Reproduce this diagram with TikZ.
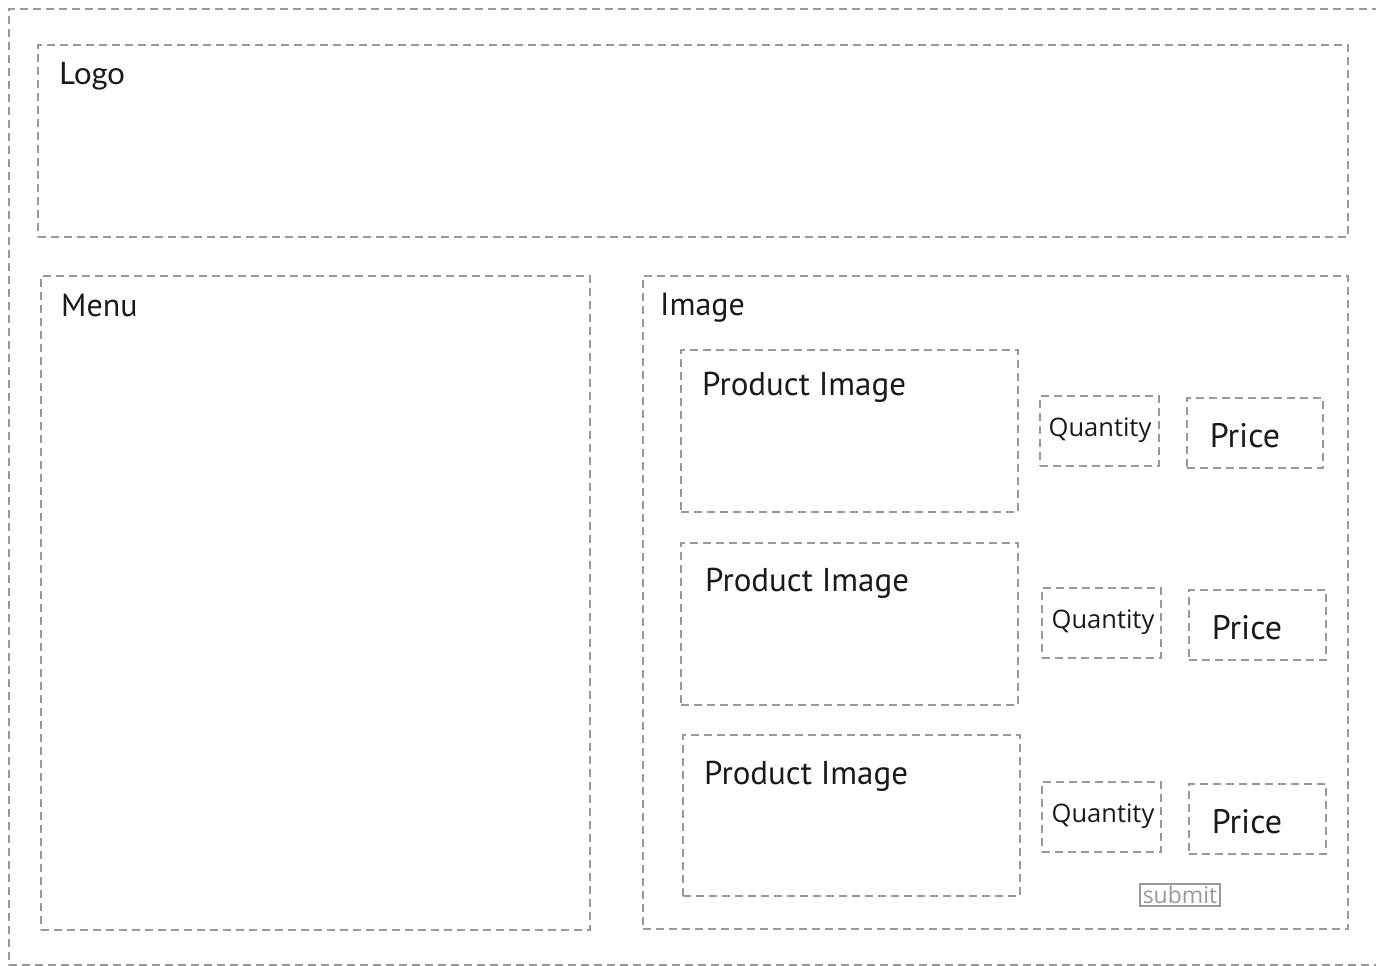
\documentclass[tikz,border=0pt]{standalone}
\usepackage{fontspec}
\setmainfont{PT Sans}
\newfontfamily\logofont{Lato}
\newfontfamily\qfont{Open Sans}
\definecolor{dashgray}{HTML}{999999}
\definecolor{txt}{HTML}{1A1A1A}
\begin{document}
\begin{tikzpicture}[x=1pt,y=-1pt,
  box/.style={draw=dashgray, line width=2.8pt, dash pattern=on 8pt off 5pt, inner sep=0pt, outer sep=0pt, anchor=north west},
  lbl/.style={anchor=west, inner sep=0pt, text=txt, font=\fontsize{33}{33}\selectfont},
  qlbl/.style={inner sep=0pt, text=txt, font=\qfont\fontsize{25.5}{25.5}\selectfont},
  plbl/.style={inner sep=0pt, text=txt, font=\fontsize{34}{34}\selectfont}]
\useasboundingbox (0,0) rectangle (1376,966);
\draw[draw=dashgray, line width=2.8pt, dash pattern=on 8pt off 5pt] (1380,9) -- (9,9) -- (9,965) -- (1380,965);
% header
\node[box, minimum width=1310pt, minimum height=192pt] (logo) at (38,45) {};
\node[lbl, font=\logofont\fontsize{31}{31}\selectfont] (logot) at (59,76) {Logo};
% menu
\node[box, minimum width=549pt, minimum height=654pt] (menu) at (41,276) {};
\node[lbl, font=\fontsize{32}{32}\selectfont] (menut) at (61,305) {Menu};
% image area
\node[box, minimum width=705pt, minimum height=653pt] (img) at (643,276) {};
\node[lbl, font=\fontsize{32}{32}\selectfont] (imgt) at (660,308) {Image};
% product rows
\node[box, minimum width=337pt, minimum height=162pt] (p1) at (681,350) {};
\node[lbl] (p1t) at (702,387) {Product Image};
\node[box, minimum width=337pt, minimum height=162pt] (p2) at (681,543) {};
\node[lbl] (p2t) at (705,583) {Product Image};
\node[box, minimum width=337pt, minimum height=161pt] (p3) at (683,735) {};
\node[lbl] (p3t) at (704,776) {Product Image};
\node[box, minimum width=119pt, minimum height=70pt] (q1) at (1040,396) {};
\node[qlbl] (q1t) at (1100,430) {Quantity};
\node[box, minimum width=136pt, minimum height=70pt] (r1) at (1187,398) {};
\node[plbl] (r1t) at (1245,436) {Price};
\node[box, minimum width=119pt, minimum height=70pt] (q2) at (1042,588) {};
\node[qlbl] (q2t) at (1103,622) {Quantity};
\node[box, minimum width=137pt, minimum height=70pt] (r2) at (1189,590) {};
\node[plbl] (r2t) at (1247,628) {Price};
\node[box, minimum width=119pt, minimum height=70pt] (q3) at (1042,782) {};
\node[qlbl] (q3t) at (1103,816) {Quantity};
\node[box, minimum width=137pt, minimum height=70pt] (r3) at (1189,784) {};
\node[plbl] (r3t) at (1247,822) {Price};
% submit
\node[draw=dashgray, line width=2.4pt, text=dashgray, inner sep=0pt, minimum width=80pt, minimum height=22pt, font=\qfont\fontsize{23}{23}\selectfont] (sub) at (1180,895) {submit};
\end{tikzpicture}
\end{document}
